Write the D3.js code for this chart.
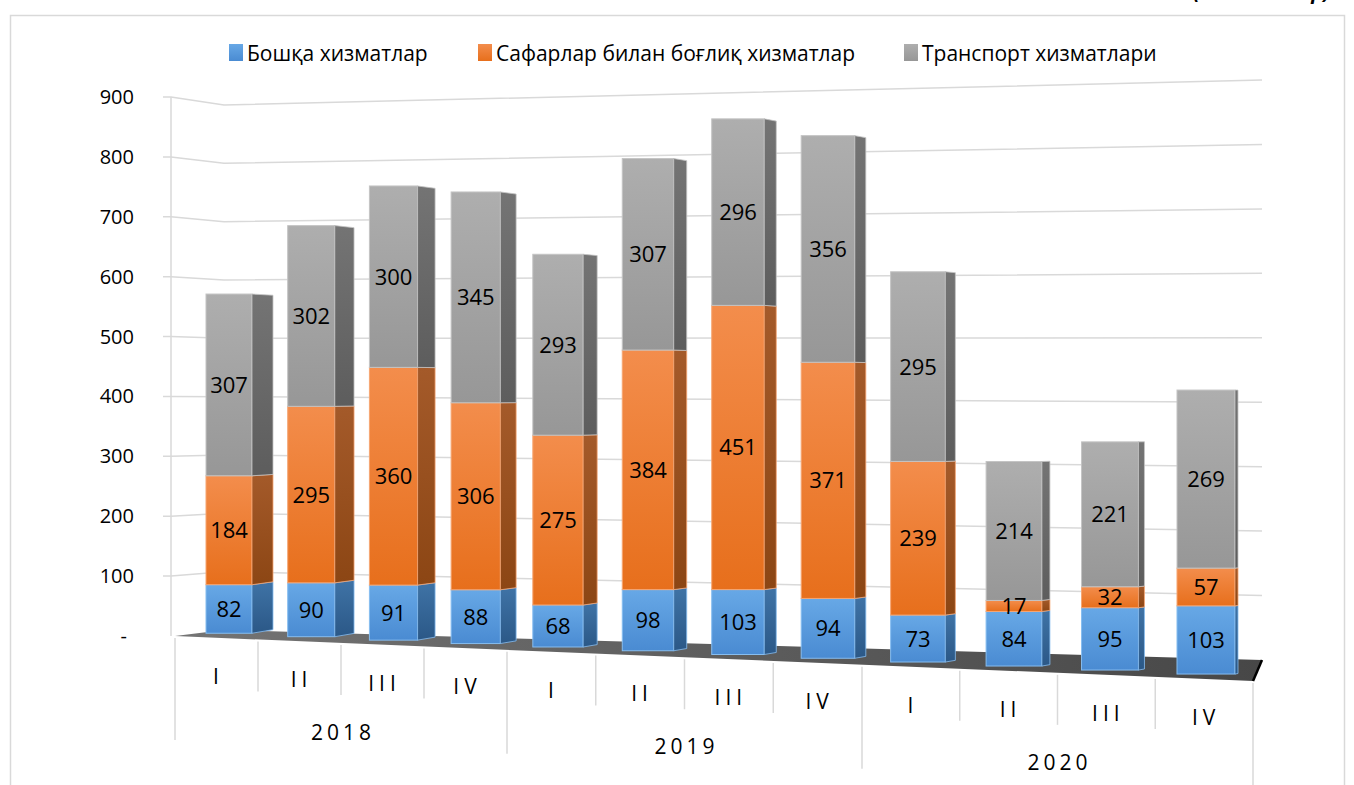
<!DOCTYPE html>
<html lang="uz">
<head>
<meta charset="UTF-8">
<title>Хизматлар</title>
<script src="https://cdn.jsdelivr.net/npm/d3@7"></script>
<style>
  body { margin: 0; background: #fff; }
  svg text { font-family: "Open Sans", "Noto Sans", sans-serif; fill: #000; }
</style>
</head>
<body>
<div id="chart"></div>
<script>
// data
var years = ["2018", "2019", "2020"];
var quarters = ["I", "II", "III", "IV"];
var other = [82, 90, 91, 88, 68, 98, 103, 94, 73, 84, 95, 103];
var travel = [184, 295, 360, 306, 275, 384, 451, 371, 239, 17, 32, 57];
var transport = [307, 302, 300, 345, 293, 307, 296, 356, 295, 214, 221, 269];
var seriesNames = ["Бошқа хизматлар", "Сафарлар билан боғлиқ хизматлар", "Транспорт хизматлари"];
var yTicks = [0, 100, 200, 300, 400, 500, 600, 700, 800, 900];
var unitText = "(млн. доллар)";

var width = 1354, height = 785;

var svg = d3.select("#chart").append("svg")
    .attr("width", width)
    .attr("height", height);

var defs = svg.append("defs");

// colours per series: front top/bottom, side top/bottom, edge
var colors = [
  {ft: "#67a8e6", fb: "#4a8bd2", st: "#3f73a6", sb: "#2b5887", edge: "#86bdf0"},
  {ft: "#f38d4c", fb: "#e76f1c", st: "#a45a2a", sb: "#8c4614", edge: "#f6a673"},
  {ft: "#aeaeae", fb: "#979797", st: "#747474", sb: "#5d5d5d", edge: "#c4c4c4"}
];

colors.forEach(function(c, i) {
  var g1 = defs.append("linearGradient").attr("id", "front" + i)
      .attr("x1", 0).attr("y1", 0).attr("x2", 0).attr("y2", 1);
  g1.append("stop").attr("offset", "0%").attr("stop-color", c.ft);
  g1.append("stop").attr("offset", "100%").attr("stop-color", c.fb);
  var g2 = defs.append("linearGradient").attr("id", "side" + i)
      .attr("x1", 0).attr("y1", 0).attr("x2", 0).attr("y2", 1);
  g2.append("stop").attr("offset", "0%").attr("stop-color", c.st);
  g2.append("stop").attr("offset", "100%").attr("stop-color", c.sb);
});

var floorGrad = defs.append("linearGradient").attr("id", "floorGrad")
    .attr("x1", 0).attr("y1", 0).attr("x2", 1).attr("y2", 0);
floorGrad.append("stop").attr("offset", "0%").attr("stop-color", "#747474");
floorGrad.append("stop").attr("offset", "100%").attr("stop-color", "#474747");

// chart frame
svg.append("rect")
    .attr("x", 10.5).attr("y", 15.5)
    .attr("width", 1334).attr("height", 800)
    .attr("fill", "none").attr("stroke", "#d9d9d9").attr("stroke-width", 1.5);

// unit caption, cut by the top edge as in the source picture
svg.append("text")
    .attr("x", 1330).attr("y", -1)
    .attr("text-anchor", "end")
    .attr("font-size", 20).attr("font-weight", "bold").attr("font-style", "italic")
    .text(unitText);

// perspective helpers
var axisX = 171, wallLeftX = 224, wallRightX = 1262;
var yAxis = d3.scaleLinear().domain([0, 900]).range([636, 97]);       // side wall front edge
var yWallL = d3.scaleLinear().domain([0, 900]).range([630, 105]);     // back wall left edge
var yWallR = d3.scaleLinear().domain([0, 900]).range([660, 80]);      // back wall right edge

var n = other.length;
var divX = d3.scaleLinear().domain([0, 4, 8, 12]).range([175, 507, 862, 1253]);
var frontY = d3.scaleLinear().domain([175, 1253]).range([636, 681]);
var barX = d3.scaleLinear().domain([0, 4, 8, 11]).range([229, 558, 918, 1206]);
var barW = d3.scaleLinear().domain([0, 11]).range([46, 58]);
var sideW = d3.scaleLinear().domain([0, 4, 8, 10, 11]).range([21, 14, 10, 6, 3]);
var unitPx = d3.scaleLinear().domain([0, 11]).range([0.592, 0.662]);

// gridlines: tick stub, side wall, back wall
var grid = svg.append("g").attr("stroke", "#d9d9d9").attr("stroke-width", 1.5).attr("fill", "none");
grid.selectAll("path")
    .data(yTicks.filter(function(d) { return d > 0; }))
    .enter().append("path")
    .attr("d", function(d) {
      return "M" + (axisX - 8) + "," + yAxis(d) +
             "L" + axisX + "," + yAxis(d) +
             "L" + wallLeftX + "," + yWallL(d) +
             "L" + wallRightX + "," + yWallR(d);
    });
grid.append("line")
    .attr("x1", axisX).attr("x2", axisX)
    .attr("y1", yAxis(900)).attr("y2", yAxis(0));

// y labels
svg.append("g").selectAll("text")
    .data(yTicks)
    .enter().append("text")
    .attr("x", function(d) { return d === 0 ? 127 : 134; })
    .attr("y", function(d) { return yAxis(d) + 7; })
    .attr("text-anchor", "end")
    .attr("font-size", 20)
    .text(function(d) { return d === 0 ? "-" : d; });

// floor
svg.append("path")
    .attr("d", "M" + divX(0) + "," + frontY(divX(0)) +
               "L" + wallLeftX + "," + yWallL(0) +
               "L" + wallRightX + "," + yWallR(0) +
               "L" + divX(12) + "," + frontY(divX(12)) + "Z")
    .attr("fill", "url(#floorGrad)");
svg.append("line")
    .attr("x1", wallRightX).attr("y1", yWallR(0))
    .attr("x2", divX(12)).attr("y2", frontY(divX(12)))
    .attr("stroke", "#000").attr("stroke-width", 2.5);

// category dividers
svg.append("g").selectAll("line")
    .data(d3.range(13))
    .enter().append("line")
    .attr("x1", function(i) { return divX(i); })
    .attr("x2", function(i) { return divX(i); })
    .attr("y1", function(i) { return frontY(divX(i)) + 2; })
    .attr("y2", function(i) { return frontY(divX(i)) + (i % 4 === 0 ? 104 : 52); })
    .attr("stroke", "#d9d9d9").attr("stroke-width", 1.5);

// quarter labels
svg.append("g").selectAll("text")
    .data(d3.range(n))
    .enter().append("text")
    .attr("x", function(i) { return (divX(i) + divX(i + 1)) / 2 + 2; })
    .attr("y", function(i) { var x = (divX(i) + divX(i + 1)) / 2; return frontY(x) + 46; })
    .attr("text-anchor", "middle")
    .attr("font-size", 21)
    .attr("letter-spacing", 5)
    .text(function(i) { return quarters[i % 4]; });

// year labels
svg.append("g").selectAll("text")
    .data(years)
    .enter().append("text")
    .attr("x", function(d, j) { return (divX(j * 4) + divX(j * 4 + 4)) / 2 + 2; })
    .attr("y", function(d, j) { var x = (divX(j * 4) + divX(j * 4 + 4)) / 2; return frontY(x) + 97; })
    .attr("text-anchor", "middle")
    .attr("font-size", 21)
    .attr("letter-spacing", 4)
    .text(function(d) { return d; });

// stacked bars
var stackData = d3.range(n).map(function(i) {
  return {i: i, other: other[i], travel: travel[i], transport: transport[i]};
});
var stack = d3.stack().keys(["other", "travel", "transport"]);
var layers = stack(stackData);

var bars = svg.append("g");
stackData.forEach(function(row, i) {
  var cx = barX(i), w = barW(i), sw = sideW(i), k = unitPx(i);
  var base = frontY(cx) - 5;
  var rise = sw * 0.17;
  var kb = k * (1 - 0.00067 * sw);
  var yF = d3.scaleLinear().domain([0, 1]).range([base, base - k]);
  var yB = d3.scaleLinear().domain([0, 1]).range([base - rise, base - rise - kb]);
  var x0 = cx - w / 2, x1 = cx + w / 2, x2 = x1 + sw;
  var g = bars.append("g");
  layers.forEach(function(layer, s) {
    var lo = layer[i][0], hi = layer[i][1];
    g.append("rect")
        .attr("x", x0).attr("y", yF(hi))
        .attr("width", w).attr("height", yF(lo) - yF(hi))
        .attr("fill", "url(#front" + s + ")")
        .attr("stroke", colors[s].edge).attr("stroke-width", 1);
    g.append("path")
        .attr("d", "M" + x1 + "," + yF(hi) + "L" + x2 + "," + yB(hi) +
                   "L" + x2 + "," + yB(lo) + "L" + x1 + "," + yF(lo) + "Z")
        .attr("fill", "url(#side" + s + ")")
        .attr("stroke", colors[s].edge).attr("stroke-width", 0.8);
  });
  layers.forEach(function(layer, s) {
    var lo = layer[i][0], hi = layer[i][1];
    g.append("text")
        .attr("x", cx).attr("y", (yF(lo) + yF(hi)) / 2 + 8)
        .attr("text-anchor", "middle")
        .attr("font-size", 22)
        .text(hi - lo);
  });
});

// legend
var legendX = [229, 478, 904];
var legend = svg.append("g");
seriesNames.forEach(function(name, s) {
  legend.append("rect")
      .attr("x", legendX[s]).attr("y", 44)
      .attr("width", 14).attr("height", 17)
      .attr("fill", "url(#front" + s + ")");
  legend.append("text")
      .attr("x", legendX[s] + 18).attr("y", 61)
      .attr("font-size", 21)
      .text(name);
});
</script>
</body>
</html>
